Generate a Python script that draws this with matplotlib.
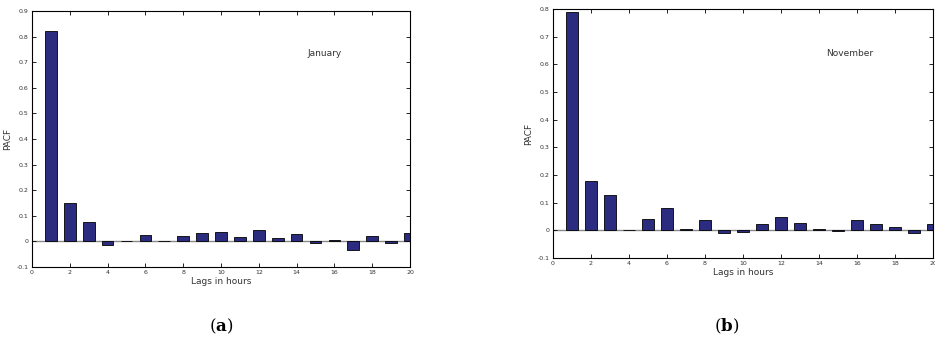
import numpy as np
import matplotlib
matplotlib.use("Agg")
import matplotlib.pyplot as plt

plt.rcParams["mathtext.fontset"] = "dejavuserif"

lags = list(range(1, 21))
pacf_january = [0.823, 0.151, 0.076, -0.016, 0.003, 0.025, 0.003, 0.021, 0.033, 0.038,
                0.017, 0.043, 0.013, 0.030, -0.006, 0.004, -0.034, 0.022, -0.005, 0.034]
pacf_november = [0.790, 0.180, 0.127, 0.002, 0.042, 0.079, 0.004, 0.039, -0.011, -0.007,
                 0.023, 0.049, 0.027, 0.004, -0.002, 0.036, 0.023, 0.013, -0.010, 0.024]

x_ticks = list(range(0, 21, 2))
jan_yticks = [-0.1, 0, 0.1, 0.2, 0.3, 0.4, 0.5, 0.6, 0.7, 0.8, 0.9]
nov_yticks = [-0.1, 0, 0.1, 0.2, 0.3, 0.4, 0.5, 0.6, 0.7, 0.8]

BAR_COLOR = "#2b2b80"
TEXT_COLOR = "#333333"

fig = plt.figure(figsize=(9.35, 3.39), dpi=100)
fig.patch.set_facecolor("white")


def fmt(v):
    if abs(v) < 1e-9:
        return "0"
    return f"{v:g}"


def draw_panel(rect, values, yticks, ylim, title, title_xy, tag, tag_x):
    ax = fig.add_axes(rect)
    ax.axhline(0, color="#8a8a8a", linewidth=1.0, zorder=1)
    ax.bar(lags, values, width=0.62, color=BAR_COLOR, edgecolor="black",
           linewidth=0.6, zorder=2)
    ax.set_xlim(0, 20)
    ax.set_ylim(*ylim)
    ax.set_xticks(x_ticks)
    ax.set_xticklabels([str(t) for t in x_ticks])
    ax.set_yticks(yticks)
    ax.set_yticklabels([fmt(t) for t in yticks])
    ax.tick_params(direction="in", length=3, width=0.6, labelsize=4.5,
                   top=True, right=True, labelcolor=TEXT_COLOR, pad=2.5)
    for s in ax.spines.values():
        s.set_linewidth(0.8)
    ax.set_ylabel("PACF", fontsize=6.5, color=TEXT_COLOR, labelpad=3)
    ax.set_xlabel("Lags in hours", fontsize=6.5, color=TEXT_COLOR, labelpad=1)
    ax.text(title_xy[0], title_xy[1], title, fontsize=6.5, color=TEXT_COLOR,
            ha="left", va="center")
    fig.text(tag_x, 1 - 326 / 339, "(" + r"$\mathbf{" + tag + "}$" + ")",
             fontsize=12, ha="center", va="center", family="DejaVu Serif")
    return ax


draw_panel([0.0342, 0.2124, 0.4043, 0.7552], pacf_january, jan_yticks, (-0.1, 0.9),
           "January", (14.6, 0.732), "a", 221 / 935)
draw_panel([0.5914, 0.2389, 0.4064, 0.7345], pacf_november, nov_yticks, (-0.1, 0.8),
           "November", (14.4, 0.641), "b", 727 / 935)

fig.savefig("out.png", dpi=100, facecolor="white")
